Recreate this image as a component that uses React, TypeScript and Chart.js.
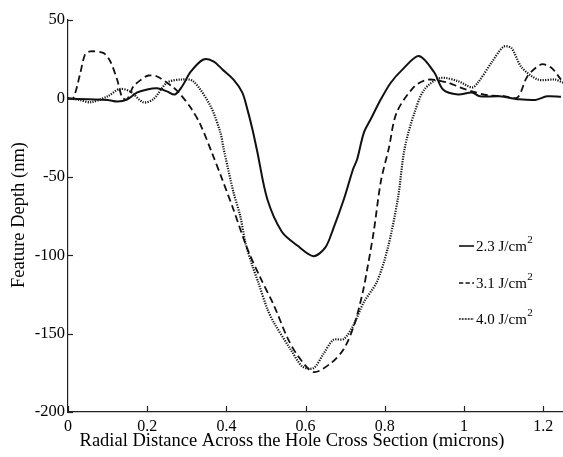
import React, { useEffect, useRef } from "react";
import { Chart, registerables } from "chart.js";

Chart.register(...registerables);

const FONT = '"Liberation Serif", "Times New Roman", serif';

const seriesLabels = ["2.3 J/cm", "3.1 J/cm", "4.0 J/cm"];

const x23 = [0, 0.05, 0.1, 0.125, 0.15, 0.175, 0.2, 0.225, 0.25, 0.27, 0.288, 0.31, 0.342, 0.367, 0.39, 0.418, 0.44, 0.453, 0.466, 0.478, 0.503, 0.54, 0.58, 0.62, 0.65, 0.67, 0.697, 0.72, 0.73, 0.747, 0.765, 0.79, 0.815, 0.845, 0.886, 0.925, 0.947, 0.985, 1.02, 1.04, 1.09, 1.14, 1.18, 1.21, 1.245];
const y23 = [0, -0.6, -1, -2, -0.6, 3.8, 5.7, 6.4, 4.5, 2.5, 7.6, 17, 24.8, 23.6, 18.5, 12, 3.8, -7, -20, -34, -64, -85, -94, -100.6, -95, -83, -64, -45, -39, -22, -13, -0.6, 10, 18.5, 27, 16.5, 5.7, 2.5, 3.8, 1.3, 1.3, -0.6, -1, 1.3, 1];

const x31 = [0, 0.013, 0.03, 0.043, 0.056, 0.089, 0.106, 0.124, 0.137, 0.149, 0.165, 0.185, 0.203, 0.225, 0.266, 0.284, 0.31, 0.334, 0.364, 0.39, 0.418, 0.453, 0.485, 0.52, 0.553, 0.58, 0.62, 0.663, 0.696, 0.722, 0.744, 0.757, 0.772, 0.79, 0.81, 0.83, 0.875, 0.91, 0.96, 0.99, 1.02, 1.06, 1.1, 1.135, 1.16, 1.195, 1.22, 1.245];
const y31 = [0, 0, 15, 28, 30, 29, 24, 12, 0.6, -0.6, 7.6, 12, 14.6, 14, 7, 2.5, -6, -16.5, -35, -52, -71, -96, -114, -132, -152, -164, -174.5, -169, -160, -145, -124, -107, -85, -53, -32, -9, 7.6, 12, 10, 7, 4.5, 2, 1.5, 0.6, 14, 21.7, 19.7, 12];

const x40 = [0, 0.03, 0.056, 0.1, 0.13, 0.157, 0.19, 0.215, 0.25, 0.284, 0.316, 0.36, 0.385, 0.393, 0.418, 0.435, 0.448, 0.466, 0.48, 0.503, 0.52, 0.562, 0.592, 0.62, 0.645, 0.67, 0.696, 0.72, 0.747, 0.78, 0.807, 0.833, 0.85, 0.875, 0.9, 0.94, 0.985, 1.02, 1.035, 1.07, 1.1, 1.12, 1.145, 1.187, 1.23, 1.25];
const y40 = [0, -1, -2.5, 1.3, 6, 4.5, -2.5, -0.6, 10, 12, 11, -5, -22, -32, -60, -75, -92, -107, -117, -134, -143, -160, -171, -172, -163, -154, -153.5, -145, -130, -117, -96, -64, -32, -9, 5.7, 13, 11, 7, 10, 23, 33, 32, 20, 12, 12, 10];

const xTicks = [0, 0.2, 0.4, 0.6, 0.8, 1, 1.2];
const yTicks = [-200, -150, -100, -50, 0, 50];

const xTitle = "Radial Distance Across the Hole Cross Section (microns)";
const yTitle = "Feature Depth (nm)";

const styles = [
  { width: 2, dash: [] as number[] },
  { width: 1.8, dash: [7, 4] },
  { width: 2.2, dash: [1.2, 1.3] },
];

function zip(xs: number[], ys: number[]) {
  return xs.map((x, i) => ({ x, y: ys[i] }));
}

const customPlugin = {
  id: "custom",
  afterDraw(chart: any) {
    const ctx = chart.ctx;
    const area = chart.chartArea;
    const xs = chart.scales.x;
    const ys = chart.scales.y;
    ctx.save();
    ctx.strokeStyle = "#222";
    ctx.lineWidth = 1.2;
    ctx.setLineDash([]);
    xTicks.forEach((t) => {
      const px = Math.round(xs.getPixelForValue(t)) + 0.5;
      ctx.beginPath();
      ctx.moveTo(px, area.bottom);
      ctx.lineTo(px, area.bottom - 6);
      ctx.stroke();
    });
    yTicks.forEach((t) => {
      const py = Math.round(ys.getPixelForValue(t)) + 0.5;
      ctx.beginPath();
      ctx.moveTo(area.left, py);
      ctx.lineTo(area.left + 5, py);
      ctx.stroke();
    });
    ctx.fillStyle = "#000";
    ctx.font = `18.5px ${FONT}`;
    ctx.textAlign = "center";
    ctx.textBaseline = "middle";
    ctx.fillText(xTitle, 292, 441);
    ctx.save();
    ctx.translate(19, 215);
    ctx.rotate(-Math.PI / 2);
    ctx.fillText(yTitle, 0, 0);
    ctx.restore();
    const rows = [246, 283, 319];
    rows.forEach((ry, i) => {
      const st = styles[i];
      ctx.strokeStyle = "#111";
      ctx.lineWidth = st.width * 0.8;
      ctx.setLineDash(st.dash.map((d) => d * 0.6));
      ctx.beginPath();
      ctx.moveTo(459, ry);
      ctx.lineTo(474, ry);
      ctx.stroke();
      ctx.setLineDash([]);
      ctx.font = `15px ${FONT}`;
      ctx.textAlign = "left";
      ctx.textBaseline = "middle";
      ctx.fillText(seriesLabels[i], 476, ry + 1);
      const w = ctx.measureText(seriesLabels[i]).width;
      ctx.font = `11px ${FONT}`;
      ctx.fillText("2", 476 + w + 0.5, ry - 6);
    });
    ctx.restore();
  },
};

export default function App() {
  const ref = useRef<HTMLCanvasElement | null>(null);
  useEffect(() => {
    document.body.style.margin = "0";
    const canvas = ref.current!;
    const datasets = [zip(x23, y23), zip(x31, y31), zip(x40, y40)].map((d, i) => ({
      label: seriesLabels[i],
      data: d,
      borderColor: "#111",
      borderWidth: styles[i].width,
      borderDash: styles[i].dash,
      pointRadius: 0,
      tension: 0.3,
      fill: false,
    }));
    const chart = new Chart(canvas, {
      type: "line",
      data: { datasets },
      plugins: [customPlugin],
      options: {
        animation: false,
        responsive: false,
        devicePixelRatio: 1,
        layout: { padding: { top: 20, right: 0, left: 0, bottom: 0 } },
        plugins: { legend: { display: false }, tooltip: { enabled: false } },
        scales: {
          x: {
            type: "linear",
            min: 0,
            max: 1.25,
            afterBuildTicks: (s: any) => {
              s.ticks = xTicks.map((v) => ({ value: v }));
            },
            afterFit: (s: any) => {
              s.height = 45;
            },
            grid: { display: false, drawTicks: false },
            border: { display: true, color: "#222", width: 1.2 },
            ticks: {
              autoSkip: false,
              maxRotation: 0,
              padding: 5,
              color: "#000",
              font: { family: FONT, size: 16 },
              callback: (v: any) => String(Math.round(Number(v) * 10) / 10),
            },
          },
          y: {
            type: "linear",
            min: -200,
            max: 50,
            afterBuildTicks: (s: any) => {
              s.ticks = yTicks.map((v) => ({ value: v }));
            },
            afterFit: (s: any) => {
              s.width = 68;
            },
            grid: { display: false, drawTicks: false },
            border: { display: true, color: "#222", width: 1.2 },
            ticks: {
              autoSkip: false,
              padding: 3,
              color: "#000",
              font: { family: FONT, size: 16.5 },
              callback: (v: any) => String(v),
            },
          },
        },
      },
    });
    return () => chart.destroy();
  }, []);
  return (
    <div style={{ width: 563, height: 457, background: "#fff" }}>
      <canvas ref={ref} width={563} height={457} style={{ display: "block" }} />
    </div>
  );
}
